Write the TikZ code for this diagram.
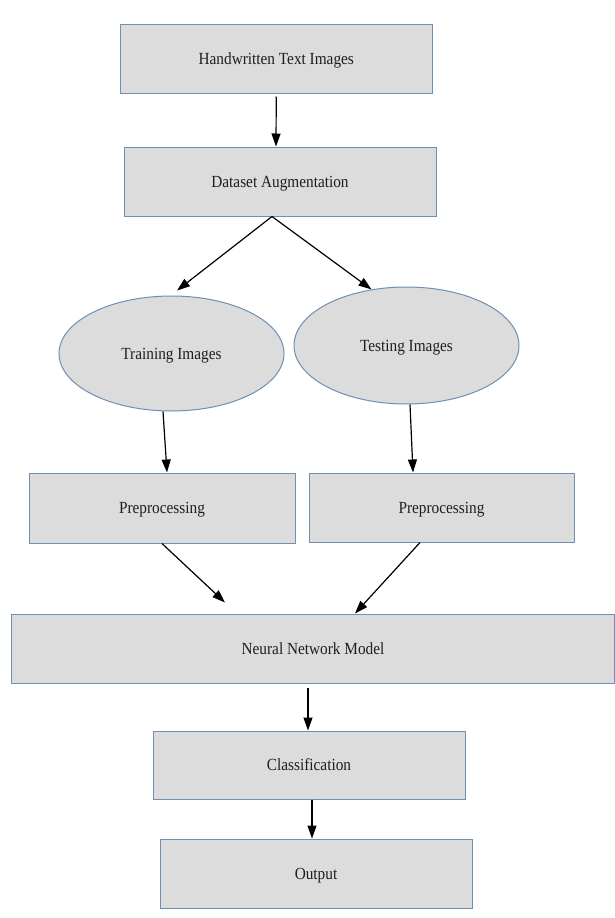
\documentclass[tikz,border=0pt]{standalone}
\usepackage{fontspec}
\setmainfont{Liberation Serif}[FakeStretch=0.9]
\usetikzlibrary{arrows.meta,calc,shapes.geometric}
\definecolor{boxfill}{HTML}{DCDCDC}
\definecolor{boxline}{HTML}{6F8FB5}
\definecolor{txt}{HTML}{1E1E1E}
\begin{document}
\begin{tikzpicture}[x=1pt,y=-1pt,
  every node/.style={font=\fontsize{17}{19}\selectfont, text=txt, text height=14.5pt, text depth=3.5pt},
  rbox/.style={draw=boxline, fill=boxfill, line width=1pt, rectangle, inner sep=0pt, anchor=center},
  ebox/.style={draw=boxline, fill=boxfill, line width=1pt, ellipse, inner sep=0pt, anchor=center},
  arr/.style={draw=black, line width=1.2pt, -{Triangle[length=13pt,width=9pt]}}]
\useasboundingbox (0,0) rectangle (614,918);
\fill[white] (0,0) rectangle (614,918);

\node[rbox, minimum width=311.5pt, minimum height=69pt] (hw) at (276.25,58.5) {Handwritten Text Images};
\node[rbox, minimum width=312pt, minimum height=69pt] (ds) at (280,181.5) {Dataset Augmentation};
\node[ebox, minimum width=225pt, minimum height=115pt] (tr) at (171.5,353.5) {Training Images};
\node[ebox, minimum width=225pt, minimum height=117pt] (te) at (406.5,345.5) {Testing Images};
\node[rbox, minimum width=266pt, minimum height=70pt] (pl) at (162,508) {Preprocessing};
\node[rbox, minimum width=265pt, minimum height=69pt] (pr) at (441.5,507.5) {Preprocessing};
\node[rbox, minimum width=603pt, minimum height=69pt] (nn) at (313,648.5) {Neural Network Model};
\node[rbox, minimum width=312pt, minimum height=68pt] (cl) at (309,765) {Classification};
\node[rbox, minimum width=312pt, minimum height=69pt] (out) at (316,873.5) {Output};

\coordinate (nnl) at ($(nn.north)+(-88,-11)$);

\draw[arr] ($(hw.south)+(0,3)$) -- ([xshift=-4pt]ds.north);
\draw[arr] ([xshift=-8pt]ds.south) -- ($(tr.north)+(5.5,-5)$);
\draw[arr] ([xshift=-8pt]ds.south) -- (te.122);
\draw[arr] ([xshift=-8.5pt]tr.south) -- ([xshift=5pt]pl.north);
\draw[arr] ([xshift=3.5pt]te.south) -- ([xshift=-28.5pt]pr.north);
\draw[arr] (pl.south) -- (nnl);
\draw[arr] ([xshift=-21.5pt]pr.south) -- ([xshift=42pt]nn.north);
\draw[arr] ($(nn.south)+(-5,4)$) -- ([xshift=-1pt]cl.north);
\draw[arr] ([xshift=3pt]cl.south) -- ([xshift=-4pt]out.north);
\end{tikzpicture}
\end{document}
